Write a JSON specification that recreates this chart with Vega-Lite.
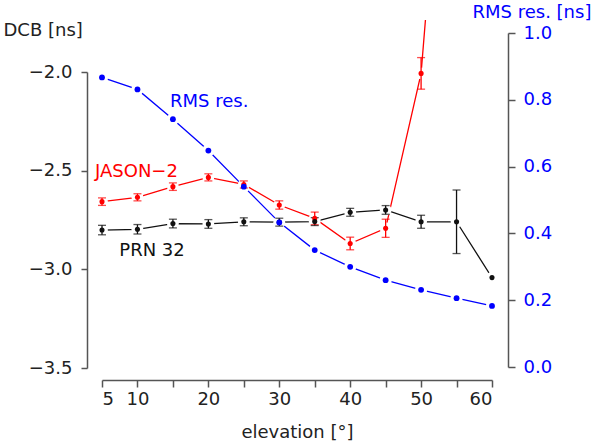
{
  "$schema": "https://vega.github.io/schema/vega-lite/v6.json",
  "width": 390,
  "height": 360,
  "autosize": {"type": "none"},
  "padding": {"left": 102, "top": 20, "right": 113, "bottom": 65},
  "background": "white",
  "config": {
    "view": {"stroke": null},
    "font": "DejaVu Sans",
    "axis": {
      "grid": false,
      "domainColor": "#555555",
      "domainWidth": 1.5,
      "tickColor": "#555555",
      "tickWidth": 1.5,
      "tickSize": 7,
      "labelOverlap": false,
      "labelFont": "DejaVu Sans",
      "labelFontSize": 18,
      "labelColor": "#222222",
      "titleFont": "DejaVu Sans",
      "titleFontSize": 18,
      "titleFontWeight": "normal",
      "titleColor": "#222222"
    }
  },
  "datasets": {
    "dcb": [
      {"elevation": 5, "series": "JASON-2", "dcb": -2.657, "lo": -2.676, "hi": -2.638},
      {"elevation": 10, "series": "JASON-2", "dcb": -2.635, "lo": -2.653, "hi": -2.617},
      {"elevation": 15, "series": "JASON-2", "dcb": -2.581, "lo": -2.600, "hi": -2.562},
      {"elevation": 20, "series": "JASON-2", "dcb": -2.534, "lo": -2.552, "hi": -2.516},
      {"elevation": 25, "series": "JASON-2", "dcb": -2.570, "lo": -2.588, "hi": -2.552},
      {"elevation": 30, "series": "JASON-2", "dcb": -2.674, "lo": -2.695, "hi": -2.653},
      {"elevation": 35, "series": "JASON-2", "dcb": -2.742, "lo": -2.774, "hi": -2.710},
      {"elevation": 40, "series": "JASON-2", "dcb": -2.869, "lo": -2.901, "hi": -2.837},
      {"elevation": 45, "series": "JASON-2", "dcb": -2.792, "lo": -2.838, "hi": -2.746},
      {"elevation": 50, "series": "JASON-2", "dcb": -2.007, "lo": -2.087, "hi": -1.927},
      {"elevation": 55, "series": "JASON-2", "dcb": 0.2, "lo": null, "hi": null},
      {"elevation": 5, "series": "PRN 32", "dcb": -2.801, "lo": -2.825, "hi": -2.777},
      {"elevation": 10, "series": "PRN 32", "dcb": -2.797, "lo": -2.821, "hi": -2.773},
      {"elevation": 15, "series": "PRN 32", "dcb": -2.768, "lo": -2.790, "hi": -2.746},
      {"elevation": 20, "series": "PRN 32", "dcb": -2.770, "lo": -2.792, "hi": -2.748},
      {"elevation": 25, "series": "PRN 32", "dcb": -2.759, "lo": -2.779, "hi": -2.739},
      {"elevation": 30, "series": "PRN 32", "dcb": -2.761, "lo": -2.781, "hi": -2.741},
      {"elevation": 35, "series": "PRN 32", "dcb": -2.758, "lo": -2.778, "hi": -2.738},
      {"elevation": 40, "series": "PRN 32", "dcb": -2.711, "lo": -2.731, "hi": -2.691},
      {"elevation": 45, "series": "PRN 32", "dcb": -2.699, "lo": -2.721, "hi": -2.677},
      {"elevation": 50, "series": "PRN 32", "dcb": -2.759, "lo": -2.792, "hi": -2.726},
      {"elevation": 55, "series": "PRN 32", "dcb": -2.759, "lo": -2.920, "hi": -2.598},
      {"elevation": 60, "series": "PRN 32", "dcb": -3.042, "lo": null, "hi": null}
    ],
    "rms": [
      {"elevation": 5, "rms": 0.867},
      {"elevation": 10, "rms": 0.831},
      {"elevation": 15, "rms": 0.742},
      {"elevation": 20, "rms": 0.648},
      {"elevation": 25, "rms": 0.540},
      {"elevation": 30, "rms": 0.433},
      {"elevation": 35, "rms": 0.350},
      {"elevation": 40, "rms": 0.300},
      {"elevation": 45, "rms": 0.260},
      {"elevation": 50, "rms": 0.231},
      {"elevation": 55, "rms": 0.206},
      {"elevation": 60, "rms": 0.183}
    ],
    "dcbLabels": [
      {"label": "JASON\u22122", "series": "JASON-2", "elevation": 4.01, "dcb": -2.534},
      {"label": "PRN 32", "series": "PRN 32", "elevation": 7.44, "dcb": -2.932}
    ],
    "rmsLabels": [
      {"label": "RMS res.", "elevation": 14.59, "rms": 0.779}
    ]
  },
  "encoding": {
    "x": {
      "field": "elevation", "type": "quantitative",
      "scale": {"domain": [5, 60], "nice": false, "zero": false},
      "axis": {
        "values": [5, 10, 15, 20, 25, 30, 35, 40, 45, 50, 55, 60],
        "labelExpr": "indexof(['5', '10', '20', '30', '40', '50', '60'], datum.label) >= 0 ? datum.label : ''",
        "labelPadding": 3,
        "title": "elevation [°]",
        "titleBaseline": "alphabetic",
        "titleY": 57
      }
    }
  },
  "layer": [
    {
      "data": {"name": "rms"},
      "encoding": {
        "y": {
          "field": "rms", "type": "quantitative",
          "scale": {"domain": [0, 1], "range": [347, 13], "nice": false, "zero": false},
          "axis": {
            "orient": "right",
            "offset": 16,
            "values": [0, 0.2, 0.4, 0.6, 0.8, 1.0],
            "format": ".1f",
            "tickSize": 7,
            "labelPadding": 8,
            "labelColor": "#0000ff",
            "title": "RMS res. [ns]",
            "titleColor": "#0000ff",
            "titleAngle": 0,
            "titleAlign": "left",
            "titleBaseline": "alphabetic",
            "titleX": -36,
            "titleY": -2.5
          }
        }
      },
      "layer": [
        {"mark": {"type": "line", "color": "#0000ff", "strokeWidth": 1.3}},
        {"mark": {"type": "point", "shape": "circle", "filled": true, "color": "#ffffff", "opacity": 1, "size": 150}}
      ]
    },
    {
      "data": {"name": "dcb"},
      "layer": [
        {
          "mark": {"type": "line", "strokeWidth": 1.3, "clip": true},
          "encoding": {
            "y": {
              "field": "dcb", "type": "quantitative",
              "scale": {"domain": [-3.5, -2.0], "range": [348, 52], "nice": false, "zero": false},
              "axis": {
                "orient": "left",
                "offset": 15,
                "values": [-3.5, -3.0, -2.5, -2.0],
                "format": ".1f",
                "tickSize": 6,
                "labelPadding": 9,
                "title": "DCB [ns]",
                "titleAngle": 0,
                "titleAlign": "left",
                "titleBaseline": "alphabetic",
                "titleX": -84,
                "titleY": 15.7
              }
            },
            "color": {"field": "series", "type": "nominal", "scale": {"domain": ["JASON-2", "PRN 32"], "range": ["#ff0000", "#111111"]}, "legend": null}
          }
        },
        {
          "transform": [{"filter": "datum.dcb < -1.8"}],
          "mark": {"type": "point", "shape": "circle", "filled": true, "color": "#ffffff", "opacity": 1, "size": 140},
          "encoding": {
            "y": {"field": "dcb", "type": "quantitative", "scale": {"domain": [-3.5, -2.0], "range": [348, 52], "nice": false, "zero": false}}
          }
        },
        {
          "transform": [{"filter": "isValid(datum.lo)"}],
          "mark": {"type": "rule", "strokeWidth": 1.3},
          "encoding": {
            "y": {"field": "lo", "type": "quantitative", "scale": {"domain": [-3.5, -2.0], "range": [348, 52], "nice": false, "zero": false}},
            "y2": {"field": "hi"},
            "color": {"field": "series", "type": "nominal", "scale": {"domain": ["JASON-2", "PRN 32"], "range": ["#ff0000", "#111111"]}, "legend": null}
          }
        },
        {
          "transform": [{"filter": "isValid(datum.lo)"}],
          "mark": {"type": "tick", "orient": "horizontal", "size": 8, "thickness": 1.3},
          "encoding": {
            "y": {"field": "lo", "type": "quantitative", "scale": {"domain": [-3.5, -2.0], "range": [348, 52], "nice": false, "zero": false}},
            "color": {"field": "series", "type": "nominal", "scale": {"domain": ["JASON-2", "PRN 32"], "range": ["#ff0000", "#111111"]}, "legend": null}
          }
        },
        {
          "transform": [{"filter": "isValid(datum.hi)"}],
          "mark": {"type": "tick", "orient": "horizontal", "size": 8, "thickness": 1.3},
          "encoding": {
            "y": {"field": "hi", "type": "quantitative", "scale": {"domain": [-3.5, -2.0], "range": [348, 52], "nice": false, "zero": false}},
            "color": {"field": "series", "type": "nominal", "scale": {"domain": ["JASON-2", "PRN 32"], "range": ["#ff0000", "#111111"]}, "legend": null}
          }
        },
        {
          "transform": [{"filter": "datum.dcb < -1.8"}],
          "mark": {"type": "circle", "opacity": 1, "size": 26},
          "encoding": {
            "y": {"field": "dcb", "type": "quantitative", "scale": {"domain": [-3.5, -2.0], "range": [348, 52], "nice": false, "zero": false}},
            "color": {"field": "series", "type": "nominal", "scale": {"domain": ["JASON-2", "PRN 32"], "range": ["#ff0000", "#111111"]}, "legend": null}
          }
        },
        {
          "data": {"name": "dcbLabels"},
          "mark": {"type": "text", "align": "left", "baseline": "alphabetic", "font": "DejaVu Sans", "fontSize": 18},
          "encoding": {
            "y": {"field": "dcb", "type": "quantitative", "scale": {"domain": [-3.5, -2.0], "range": [348, 52], "nice": false, "zero": false}},
            "text": {"field": "label"},
            "color": {"field": "series", "type": "nominal", "scale": {"domain": ["JASON-2", "PRN 32"], "range": ["#ff0000", "#111111"]}, "legend": null}
          }
        },
        {
          "data": {"values": [{}]},
          "mark": {"type": "rule", "color": "#555555", "strokeWidth": 2},
          "encoding": {"x": {"datum": 60, "type": "quantitative"}}
        }
      ]
    },
    {
      "data": {"name": "rms"},
      "encoding": {
        "y": {
          "field": "rms", "type": "quantitative",
          "scale": {"domain": [0, 1], "range": [347, 13], "nice": false, "zero": false},
          "axis": null
        }
      },
      "layer": [
        {"mark": {"type": "circle", "color": "#0000ff", "opacity": 1, "size": 34}},
        {
          "data": {"name": "rmsLabels"},
          "mark": {"type": "text", "align": "left", "baseline": "alphabetic", "font": "DejaVu Sans", "fontSize": 18, "color": "#0000ff"},
          "encoding": {"text": {"field": "label"}}
        }
      ]
    }
  ],
  "resolve": {"scale": {"y": "independent"}, "axis": {"y": "independent"}}
}
